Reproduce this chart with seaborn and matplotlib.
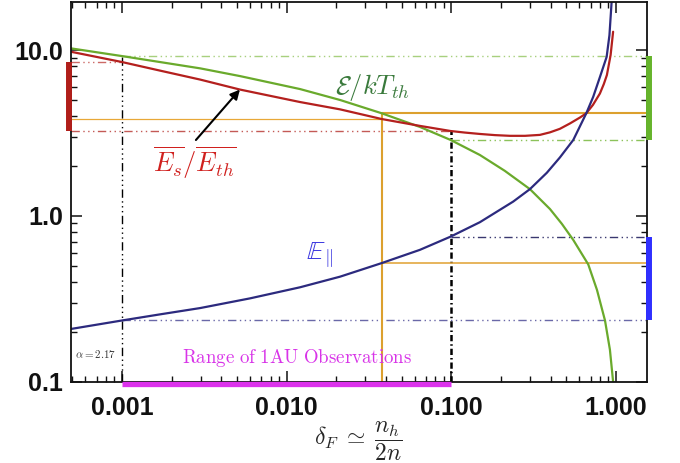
import matplotlib
matplotlib.use("Agg")
import matplotlib.pyplot as plt
import matplotlib.transforms as mtransforms
from matplotlib.ticker import FixedLocator, FixedFormatter, LogLocator, NullFormatter
import pandas as pd
import seaborn as sns

# ---------------- data ----------------
delta_red = [0.00049, 0.001, 0.0017, 0.00298, 0.0052, 0.01205, 0.0211, 0.0377, 0.0644,
             0.099, 0.121, 0.149, 0.184, 0.227, 0.280, 0.345, 0.397, 0.456, 0.525,
             0.604, 0.66, 0.724, 0.798, 0.843, 0.880, 0.927, 0.96]
es_eth = [9.77, 8.47, 7.52, 6.64, 5.78, 4.86, 4.39, 3.84, 3.49,
          3.25, 3.18, 3.12, 3.07, 3.04, 3.04, 3.08, 3.19, 3.35, 3.61,
          3.92, 4.16, 4.67, 5.47, 6.24, 7.07, 9.33, 12.9]

delta_green = [0.00049, 0.001, 0.0017, 0.00298, 0.0052, 0.01205, 0.0211, 0.0377, 0.0644,
               0.099, 0.149, 0.211, 0.30, 0.397, 0.469, 0.55, 0.678, 0.766, 0.857,
               0.918, 0.96]
e_kt = [10.24, 9.2, 8.47, 7.76, 6.97, 5.82, 5.0, 4.16, 3.44,
        2.87, 2.33, 1.87, 1.45, 1.10, 0.895, 0.716, 0.51, 0.358, 0.234,
        0.156, 0.1]

delta_blue = [0.00049, 0.001, 0.0017, 0.00298, 0.00598, 0.01205, 0.0211, 0.0377, 0.0644,
              0.099, 0.149, 0.2375, 0.30, 0.38, 0.456, 0.55, 0.66, 0.727, 0.798,
              0.877, 0.912, 0.94]
e_par = [0.208, 0.234, 0.2547, 0.278, 0.318, 0.371, 0.43, 0.519, 0.624,
         0.75, 0.916, 1.22, 1.45, 1.82, 2.25, 2.87, 4.16, 5.23, 6.87,
         9.1, 12.3, 19.5]

x_ticks = [0.001, 0.01, 0.1, 1.0]
x_tick_labels = ["0.001", "0.010", "0.100", "1.000"]
y_ticks = [0.1, 1.0, 10.0]
y_tick_labels = ["0.1", "1.0", "10.0"]

x_lim = (0.00049, 1.535)
y_lim = (0.1, 19.5)

obs_range = [0.001, 0.1]          # range of 1AU observations
delta_mark = 0.0377               # orange marker position
red_at_obs = [8.47, 3.25]         # red curve at 0.001 and 0.1
green_at_obs = [9.2, 2.87]        # green curve at 0.001 and 0.1
blue_at_obs = [0.234, 0.75]       # blue curve at 0.001 and 0.1
red_mark, green_mark, blue_mark = 3.84, 4.16, 0.519
alpha_value = 2.17

# ---------------- style ----------------
sns.set_style("ticks")
plt.rcParams["mathtext.fontset"] = "cm"
plt.rcParams["font.family"] = ["Liberation Sans", "DejaVu Sans"]

C_RED = "#b4201e"
C_GREEN = "#6aaa2c"
C_BLUE = "#2c2a7e"
C_ORANGE = "#dca02e"
DDD = (0, (6, 2.5, 1, 2.5, 1, 2.5, 1, 2.5))

fig = plt.figure(figsize=(6.8, 4.63), dpi=100)
ax = fig.add_axes([0.1044, 0.1756, 0.8466, 0.8201])
ax.set_xscale("log")
ax.set_yscale("log")

# reference lines
xmin, xmax = x_lim
ax.plot([obs_range[0]] * 2, [y_lim[0], green_at_obs[0]], color="black", lw=1.0, linestyle=DDD)
ax.plot([obs_range[1]] * 2, [y_lim[0], red_at_obs[1]], color="black", lw=1.8,
        linestyle=(0, (2.5, 1.2, 0.6, 1.2)))
ax.plot([obs_range[0], xmax], [green_at_obs[0]] * 2, color="#a8d07e", lw=1.0, linestyle=DDD)
ax.plot([obs_range[1], xmax], [green_at_obs[1]] * 2, color="#8cc25a", lw=1.0, linestyle=DDD)
ax.plot([xmin, obs_range[0]], [red_at_obs[0]] * 2, color="#cc6a66", lw=1.0, linestyle=DDD)
ax.plot([xmin, obs_range[1]], [red_at_obs[1]] * 2, color="#c45a56", lw=1.0, linestyle=DDD)
ax.plot([obs_range[0], xmax], [blue_at_obs[0]] * 2, color="#6a68a8", lw=1.0, linestyle=DDD)
ax.plot([obs_range[1], xmax], [blue_at_obs[1]] * 2, color="#3a3870", lw=1.0, linestyle=DDD)

ax.plot([delta_mark] * 2, [y_lim[0], green_mark], color=C_ORANGE, lw=1.5)
ax.plot([xmin, delta_mark], [red_mark] * 2, color="#e8a838", lw=0.9)
ax.plot([delta_mark, xmax], [green_mark] * 2, color=C_ORANGE, lw=1.5)
ax.plot([delta_mark, xmax], [blue_mark] * 2, color="#e0a030", lw=1.1)

# curves through seaborn
df = pd.concat([
    pd.DataFrame({"delta": delta_red, "value": es_eth, "curve": "red"}),
    pd.DataFrame({"delta": delta_green, "value": e_kt, "curve": "green"}),
    pd.DataFrame({"delta": delta_blue, "value": e_par, "curve": "blue"}),
], ignore_index=True)
sns.lineplot(data=df, x="delta", y="value", hue="curve",
             palette={"red": C_RED, "green": C_GREEN, "blue": C_BLUE},
             hue_order=["green", "red", "blue"],
             sort=False, estimator=None, legend=False, linewidth=1.6, ax=ax)

# edge bars
tr_y = mtransforms.blended_transform_factory(ax.transAxes, ax.transData)
tr_x = mtransforms.blended_transform_factory(ax.transData, ax.transAxes)
ax.plot([-0.004, -0.004], [red_at_obs[1], red_at_obs[0]], transform=tr_y, color="#b01e1a",
        lw=4.3, solid_capstyle="butt", clip_on=False, zorder=5)
ax.plot([1.0035, 1.0035], [green_at_obs[1], green_at_obs[0]], transform=tr_y, color="#66b42c",
        lw=4.3, solid_capstyle="butt", clip_on=False, zorder=5)
ax.plot([1.0035, 1.0035], [blue_at_obs[0], blue_at_obs[1]], transform=tr_y, color="#3030ff",
        lw=4.3, solid_capstyle="butt", clip_on=False, zorder=5)
ax.plot(obs_range, [-0.006, -0.006], transform=tr_x, color="#dc32ec",
        lw=3.8, solid_capstyle="butt", clip_on=False, zorder=5)

# labels
ax.text(0.523, 0.7735, r"$\mathcal{E}/kT_{th}$", transform=ax.transAxes, color="#3a7a3c",
        fontsize=19, ha="center", va="center")
ax.text(0.2154, 0.576, r"$\overline{E_s}/\overline{E_{th}}$", transform=ax.transAxes,
        color="#d0201e", fontsize=19, ha="center", va="center")
ax.annotate("", xy=(0.0052, 5.78), xycoords="data", xytext=(0.217, 0.6365),
            textcoords="axes fraction",
            arrowprops=dict(arrowstyle="-|>", color="black", lw=1.5, mutation_scale=14,
                            shrinkA=0, shrinkB=0))
ax.text(0.408, 0.3337, r"$\mathbb{E}_{\|}$", transform=ax.transAxes, color="#3a36e0",
        fontsize=19, ha="left", va="center")
ax.text(0.0426, 0.0729, r"$\alpha = %.2f$" % alpha_value, transform=ax.transAxes,
        color="#333333", fontsize=8, ha="center", va="center")
ax.text(0.3934, 0.0624, r"$\mathrm{Range\ of\ 1AU\ Observations}$", transform=ax.transAxes,
        color="#d834e8", fontsize=13.6, ha="center", va="center")

ax.set_xlabel(r"$\delta_F \;\simeq\; \dfrac{n_h}{2n}$", fontsize=17, labelpad=0)
ax.set_ylabel("")

# axes formatting
ax.set_xlim(*x_lim)
ax.set_ylim(*y_lim)
ax.xaxis.set_major_locator(FixedLocator(x_ticks))
ax.xaxis.set_major_formatter(FixedFormatter(x_tick_labels))
ax.yaxis.set_major_locator(FixedLocator(y_ticks))
ax.yaxis.set_major_formatter(FixedFormatter(y_tick_labels))
ax.xaxis.set_minor_locator(LogLocator(base=10, subs=range(2, 10), numticks=20))
ax.yaxis.set_minor_locator(LogLocator(base=10, subs=range(2, 10), numticks=20))
ax.xaxis.set_minor_formatter(NullFormatter())
ax.yaxis.set_minor_formatter(NullFormatter())
ax.tick_params(which="both", direction="in", top=True, right=True, color="#111111")
ax.tick_params(which="major", length=8, width=1.1)
ax.tick_params(which="minor", length=4.3, width=1.0)
ax.tick_params(axis="x", which="major", pad=10)
ax.tick_params(axis="y", which="major", pad=5.5)
for lab in ax.get_xticklabels() + ax.get_yticklabels():
    lab.set_fontfamily("Liberation Sans")
    lab.set_fontweight("bold")
    lab.set_fontsize(18)
    lab.set_color("#111111")
for sp in ax.spines.values():
    sp.set_linewidth(1.3)
    sp.set_color("#111111")

fig.savefig("out.png", dpi=100)
